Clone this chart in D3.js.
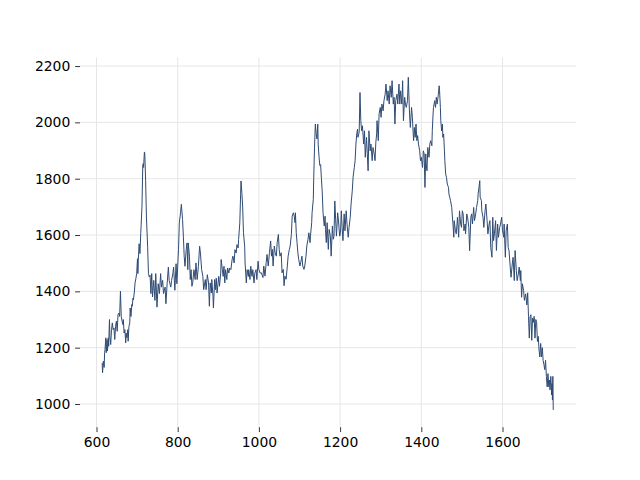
<!DOCTYPE html>
<html><head><meta charset="utf-8">
<script src="https://cdn.jsdelivr.net/npm/d3@7"></script>
<style>html,body{margin:0;padding:0;background:#fff;}svg{display:block;}</style>
</head><body><svg id="c" width="640" height="480"></svg>
<script>
const xValues = [614,615,617,619,620,621,623,624,626,627,629,630,632,633,635,637,639,641,643,645,647,649,651,653,655,657,659,661,663,665,666,668,670,672,673,675,677,678,680,682,683,685,687,688,690,691,693,695,697,699,701,702,703,705,707,709,712,714,715,716,718,719,721,723,726,728,730,732,734,736,738,741,744,746,749,752,755,758,760,763,765,769,771,774,777,779,783,785,788,790,793,796,798,
802,804,807,809,812,814,816,818,821,823,825,826,829,831,833,835,837,840,843,845,848,851,854,856,859,862,864,868,870,873,876,878,880,883,884,887,888,891,893,895,897,901,903,906,907,910,912,914,916,918,921,923,926,928,931,934,936,939,941,944,946,949,950,953,955,956,958,960,962,965,966,969,971,974,975,978,980,983,985,988,990,993,995,998,1000,1003,
1006,1010,1012,1015,1018,1020,1023,1026,1029,1031,1033,1035,1038,1040,1043,1045,1048,1050,1052,1055,1057,1060,1062,1064,1067,1070,1072,1075,1077,1080,1082,1085,1087,1089,1090,1092,1094,1096,1098,1101,1103,1106,1108,1111,1113,1116,1118,1121,1123,1126,1127,1130,1131,1134,1135,1137,1139,1141,1143,1145,1146,1148,1150,1152,1154,1156,1158,1161,1163,1164,1166,1168,1171,1173,1176,1178,1181,1183,1185,1187,1189,1191,1194,1196,1199,1201,
1203,1205,1207,1210,1212,1215,1217,1220,1222,1225,1227,1230,1232,1235,1237,1239,1241,1243,1244,1247,1249,1251,1253,1255,1257,1258,1260,1262,1265,1267,1269,1271,1274,1276,1279,1281,1284,1286,1288,1290,1291,1294,1296,1299,1301,1303,1306,1308,1311,1313,1316,1318,1321,1323,1326,1328,1331,1333,1335,1337,1340,1342,1345,1347,1349,1352,1354,1356,1359,1361,1363,1366,1368,1371,1373,1376,1378,1381,1383,
1385,1387,1389,1391,1393,1396,1398,1400,1403,1405,1407,1409,1411,1412,1414,1416,1419,1421,1423,1426,1427,1429,1430,1433,1435,1437,1439,1442,1444,1445,1447,1448,1450,1452,1453,1455,1457,1458,1460,1462,1464,1467,1468,1470,1472,1475,1476,1478,1480,1481,1484,1486,1488,1489,1492,1494,1497,1499,1501,1503,1505,1508,1509,1512,1514,1517,1519,1522,1524,1526,1529,1531,1534,1536,1539,1540,1542,1544,1545,1548,1549,1552,1554,1557,1559,1562,1564,1567,
1569,1571,1574,1576,1578,1580,1583,1585,1588,1590,1593,1595,1598,1600,1603,1604,1607,1609,1612,1614,1616,1619,1621,1624,1626,1629,1631,1634,1636,1639,1641,1644,1645,1647,1649,1652,1654,1657,
1660,1662,1664,1666,1668,1670,1672,1674,1676,1678,1680,1682,1684,1686,1688,1690,1692,1694,1696,1698,1700,1702,1704,1706,1708,1710,1712,1714,1716,1717,1719,1721,1722,1723,1724,1725];
const yValues = [1146,1111,1152,1130,1182,1193,1235,1182,1229,1188,1235,1205,1300,1241,1211,1264,1288,1264,1270,1229,1276,1294,1258,1317,1323,1311,1400,1311,1294,1282,1300,1252,1264,1217,1252,1235,1264,1223,1276,1288,1341,1311,1353,1347,1376,1370,1394,1430,1445,1463,1516,1463,1510,1569,1534,1605,1699,1847,1853,1840,1895,1889,1794,1664,1557,1463,1451,1457,1392,1463,1380,1439,1368,1463,1344,1427,1392,1463,1415,1439,1392,1415,1356,1427,1486,1439,1415,1439,1463,1486,1404,1498,1427,
1548,1643,1679,1709,1655,1596,1525,1489,1548,1572,1477,1572,1525,1442,1477,1418,1430,1477,1442,1501,1442,1489,1560,1536,1477,1453,1406,1442,1406,1459,1430,1347,1430,1394,1442,1382,1341,1442,1406,1447,1394,1453,1418,1465,1513,1477,1453,1489,1430,1477,1442,1483,1465,1483,1477,1513,1525,1501,1548,1536,1566,1554,1584,1643,1744,1792,1750,1703,1608,1560,1501,1430,1477,1453,1477,1442,1489,1453,1477,1430,1465,1477,1442,1507,1477,1465,
1466,1449,1490,1454,1502,1531,1490,1537,1579,1525,1549,1490,1561,1537,1525,1573,1602,1549,1525,1537,1466,1478,1420,1454,1443,1490,1525,1549,1561,1602,1667,1679,1667,1644,1679,1608,1573,1537,1514,1490,1502,1525,1490,1478,1490,1525,1561,1585,1608,1573,1596,1644,1679,1727,1800,1912,1994,1960,1941,1994,1923,1880,1847,1850,1800,1753,1679,1632,1667,1620,1573,1644,1549,1620,1596,1525,1632,1585,1596,1721,1656,1596,1679,1650,1596,1608,
1686,1627,1580,1675,1615,1686,1639,1592,1627,1663,1710,1757,1805,1840,1864,1923,1959,1976,1947,1965,2106,2006,1970,1988,1947,1923,1970,1876,1947,1888,1828,1970,1899,1923,1864,1911,1888,1864,1929,1959,2006,1935,2030,2053,2018,2065,2041,2077,2100,2136,2077,2112,2065,2130,2089,2148,2065,2089,1994,2077,2100,2065,2136,2065,2112,2065,2148,2006,2089,2065,2053,2077,2160,2030,1982,2053,2018,1935,1982,
1947,1994,1935,1953,1923,1899,1864,1876,1840,1899,1888,1769,1888,1852,1828,1911,1876,1923,1935,1917,1970,2030,2053,2077,2053,2089,2065,2100,2130,2112,2053,2006,1970,1994,1947,1959,1899,1864,1817,1805,1781,1769,1746,1734,1722,1698,1675,1639,1592,1651,1615,1604,1639,1663,1592,1686,1639,1627,1686,1675,1615,1639,1604,1675,1663,1627,1544,1663,1675,1639,1698,1651,1675,1698,1722,1746,1769,1793,1734,1722,1686,1663,1627,1686,1710,1651,1604,1639,
1651,1556,1521,1663,1580,1604,1651,1545,1639,1592,1627,1639,1663,1615,1592,1639,1521,1615,1639,1556,1545,1486,1450,1497,1521,1438,1545,1474,1438,1462,1486,1438,1474,1379,1427,1403,1368,1391,
1352,1395,1311,1234,1311,1317,1226,1305,1290,1311,1234,1300,1290,1222,1240,1191,1167,1215,1167,1200,1155,1140,1122,1155,1098,1061,1108,1061,1085,1050,1098,1032,1073,1014,1098,979];
const xTicks = [600,800,1000,1200,1400,1600];
const yTicks = [1000,1200,1400,1600,1800,2000,2200];

const W = 640, H = 480;
const L = 80, R = 576, T = 57.6, B = 427.2;
const svg = d3.select('#c');
const x = d3.scaleLinear().domain([559.4, 1781]).range([L, R]);
const y = d3.scaleLinear().domain([917.6, 2230]).range([B, T]);

// grid
svg.append('g').selectAll('line').data(xTicks).join('line')
  .attr('x1', d => x(d)).attr('x2', d => x(d)).attr('y1', T).attr('y2', B)
  .attr('stroke', '#e6e6e6').attr('stroke-width', 1);
svg.append('g').selectAll('line').data(yTicks).join('line')
  .attr('y1', d => y(d)).attr('y2', d => y(d)).attr('x1', L).attr('x2', R)
  .attr('stroke', '#e6e6e6').attr('stroke-width', 1);

const tk = 4.86;
const gx = svg.append('g').attr('transform', `translate(0,${B})`)
  .call(d3.axisBottom(x).tickValues(xTicks).tickFormat(d3.format('d')).tickSize(tk).tickPadding(tk));
const gy = svg.append('g').attr('transform', `translate(${L},0)`)
  .call(d3.axisLeft(y).tickValues(yTicks).tickFormat(d3.format('d')).tickSize(tk).tickPadding(tk));
[gx, gy].forEach(g => {
  g.select('.domain').remove();
  g.selectAll('line').attr('stroke', '#000').attr('stroke-width', 0.8);
  g.selectAll('text').attr('fill', '#000').style('font-family', 'DejaVu Sans').style('font-size', '13.9px');
});

const data = xValues.map((d, i) => [d, yValues[i]]);
svg.append('path').datum(data)
  .attr('fill', 'none').attr('stroke', '#2f4b73').attr('stroke-width', 1)
  .attr('stroke-linejoin', 'round')
  .attr('d', d3.line().x(d => x(d[0])).y(d => y(d[1])));
</script></body></html>
